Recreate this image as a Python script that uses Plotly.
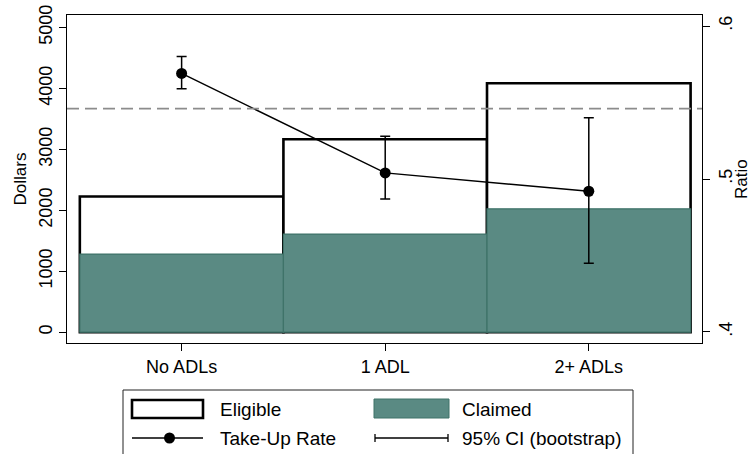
import plotly.graph_objects as go

# ADL groups and dollar amounts (left axis)
categories = ["No ADLs", "1 ADL", "2+ ADLs"]
eligible = [2226, 3167, 4085]
claimed = [1282, 1610, 2025]

# Take-up ratio with bootstrap 95% CI (right axis)
take_up = [0.569, 0.504, 0.492]
ci_low = [0.559, 0.487, 0.445]
ci_high = [0.580, 0.528, 0.540]
overall_rate = 0.546

dollar_ticks = [0, 1000, 2000, 3000, 4000, 5000]
ratio_ticks = [0.4, 0.5, 0.6]
ratio_labels = [".4", ".5", ".6"]

TEAL = "#5a8a83"
TEAL_EDGE = "#3f7369"
FONT = "Liberation Sans"

W, H = 753, 454
ML, MR, MT, MB = 67, 51, 15, 111
PW, PH = W - ML - MR, H - MT - MB


def px(x):
    return (x - ML) / PW


def py(y):
    return (H - MB - y) / PH


fig = go.Figure()

fig.add_trace(go.Bar(
    x=categories, y=eligible, width=1, name="Eligible",
    marker=dict(color="white", line=dict(color="black", width=2.6)),
    showlegend=False, yaxis="y",
))
fig.add_trace(go.Bar(
    x=categories, y=claimed, width=1, name="Claimed",
    marker=dict(color=TEAL, line=dict(color=TEAL_EDGE, width=1.2)),
    showlegend=False, yaxis="y",
))
fig.add_trace(go.Scatter(
    x=categories, y=take_up, mode="lines+markers", name="Take-Up Rate",
    line=dict(color="black", width=1.5),
    marker=dict(color="black", size=11),
    error_y=dict(
        type="data", symmetric=False,
        array=[h - r for h, r in zip(ci_high, take_up)],
        arrayminus=[r - l for r, l in zip(take_up, ci_low)],
        color="black", thickness=1.5, width=5,
    ),
    showlegend=False, yaxis="y2",
))

# overall take-up reference line
fig.add_shape(type="line", xref="paper", yref="y2", x0=0, x1=1,
              y0=overall_rate, y1=overall_rate, layer="above",
              line=dict(color="#8c8c8c", width=1.6, dash="12px,6px"))

# legend box and keys
shapes = [
    dict(type="rect", xref="paper", yref="paper",
         x0=px(123), x1=px(633), y0=py(470), y1=py(390),
         line=dict(color="#222", width=1), fillcolor="rgba(0,0,0,0)"),
    dict(type="rect", xref="paper", yref="paper",
         x0=px(132), x1=px(203), y0=py(418), y1=py(400),
         line=dict(color="black", width=2.6), fillcolor="white"),
    dict(type="rect", xref="paper", yref="paper",
         x0=px(374), x1=px(449), y0=py(418), y1=py(399),
         line=dict(color=TEAL_EDGE, width=1), fillcolor=TEAL),
    dict(type="line", xref="paper", yref="paper",
         x0=px(132), x1=px(203), y0=py(438), y1=py(438),
         line=dict(color="black", width=1.5)),
    dict(type="circle", xref="paper", yref="paper",
         x0=px(164), x1=px(175), y0=py(443.5), y1=py(432.5),
         line=dict(color="black", width=0), fillcolor="black"),
    dict(type="line", xref="paper", yref="paper",
         x0=px(375), x1=px(448), y0=py(438), y1=py(438),
         line=dict(color="black", width=1.3)),
    dict(type="line", xref="paper", yref="paper",
         x0=px(375), x1=px(375), y0=py(434), y1=py(442),
         line=dict(color="black", width=1.3)),
    dict(type="line", xref="paper", yref="paper",
         x0=px(448), x1=px(448), y0=py(434), y1=py(442),
         line=dict(color="black", width=1.3)),
]
for s in shapes:
    fig.add_shape(**s)

legend_text = [("Eligible", 218, 409), ("Claimed", 460, 409),
               ("Take-Up Rate", 218, 438), ("95% CI (bootstrap)", 460, 438)]
for txt, x, y in legend_text:
    fig.add_annotation(text=txt, xref="paper", yref="paper", x=px(x), y=py(y),
                       xanchor="left", yanchor="middle", showarrow=False,
                       font=dict(family=FONT, size=19, color="black"))

# right axis title, set close to its tick labels
fig.add_annotation(text="Ratio", xref="paper", yref="paper", x=px(741), y=0.5,
                   xanchor="center", yanchor="middle", textangle=-90,
                   showarrow=False, font=dict(family=FONT, size=17, color="black"))

axis_common = dict(showline=True, linecolor="black", linewidth=1.3,
                   ticks="outside", ticklen=7, tickwidth=1.3, tickcolor="black",
                   showgrid=False, zeroline=False, automargin=False)

fig.update_layout(
    width=W, height=H,
    margin=dict(l=ML, r=MR, t=MT, b=MB, pad=0, autoexpand=False),
    paper_bgcolor="white", plot_bgcolor="white",
    barmode="overlay", showlegend=False,
    font=dict(family=FONT, size=18, color="black"),
    xaxis=dict(**axis_common, type="category", range=[-0.563, 2.556],
               mirror=True, tickfont=dict(size=18)),
    yaxis=dict(**axis_common, range=[-177, 5205], tickvals=dollar_ticks,
               tickangle=-90, mirror=False, tickfont=dict(size=18),
               title=dict(text="Dollars", font=dict(size=17), standoff=4)),
    yaxis2=dict(**axis_common, overlaying="y", side="right",
                range=[0.3928, 0.6072], tickvals=ratio_ticks,
                ticktext=ratio_labels, tickangle=-90, tickfont=dict(size=18)),
)

fig.write_html("out.html")
